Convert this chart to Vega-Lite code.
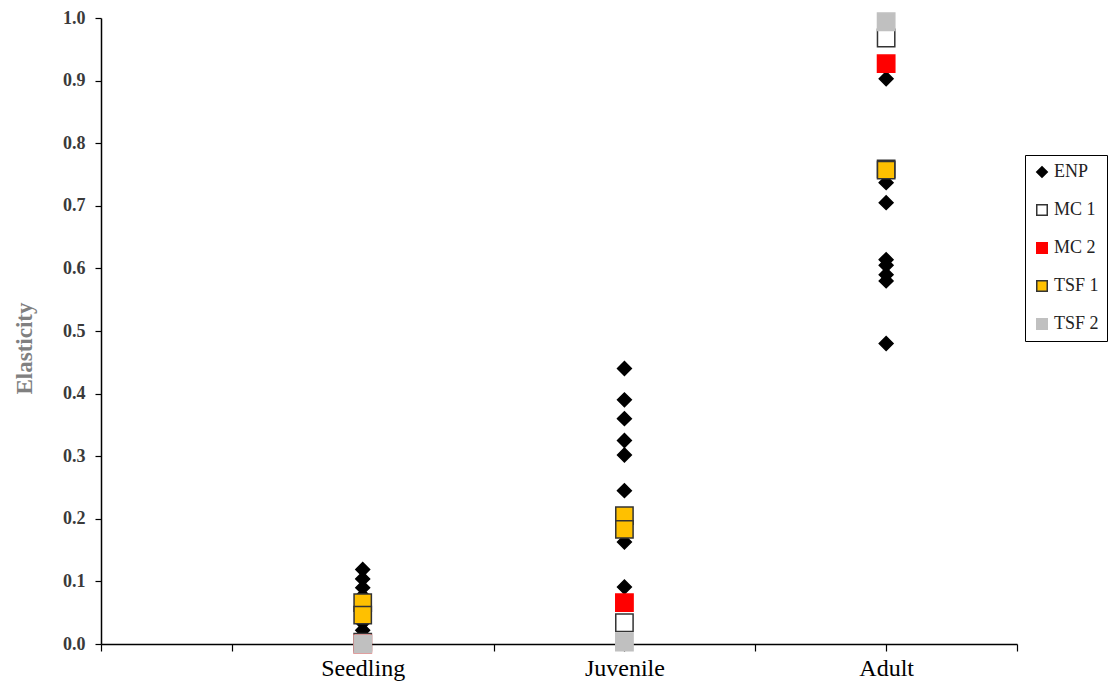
{
  "$schema": "https://vega.github.io/schema/vega-lite/v6.json",
  "autosize": {"type": "none"},
  "padding": {"left": 101, "top": 18, "right": 91, "bottom": 44},
  "width": 916,
  "height": 626,
  "background": "white",
  "config": {
    "view": {"stroke": null},
    "font": "Liberation Serif",
    "point": {"filled": true}
  },
  "data": {
    "values": [
      {"stage": "Seedling", "series": "ENP", "elasticity": 0.119},
      {"stage": "Seedling", "series": "ENP", "elasticity": 0.104},
      {"stage": "Seedling", "series": "ENP", "elasticity": 0.090},
      {"stage": "Seedling", "series": "ENP", "elasticity": 0.077},
      {"stage": "Seedling", "series": "ENP", "elasticity": 0.062},
      {"stage": "Seedling", "series": "ENP", "elasticity": 0.050},
      {"stage": "Seedling", "series": "ENP", "elasticity": 0.034},
      {"stage": "Seedling", "series": "ENP", "elasticity": 0.022},
      {"stage": "Juvenile", "series": "ENP", "elasticity": 0.440},
      {"stage": "Juvenile", "series": "ENP", "elasticity": 0.390},
      {"stage": "Juvenile", "series": "ENP", "elasticity": 0.360},
      {"stage": "Juvenile", "series": "ENP", "elasticity": 0.325},
      {"stage": "Juvenile", "series": "ENP", "elasticity": 0.302},
      {"stage": "Juvenile", "series": "ENP", "elasticity": 0.245},
      {"stage": "Juvenile", "series": "ENP", "elasticity": 0.163},
      {"stage": "Juvenile", "series": "ENP", "elasticity": 0.091},
      {"stage": "Adult", "series": "ENP", "elasticity": 0.903},
      {"stage": "Adult", "series": "ENP", "elasticity": 0.737},
      {"stage": "Adult", "series": "ENP", "elasticity": 0.705},
      {"stage": "Adult", "series": "ENP", "elasticity": 0.614},
      {"stage": "Adult", "series": "ENP", "elasticity": 0.605},
      {"stage": "Adult", "series": "ENP", "elasticity": 0.590},
      {"stage": "Adult", "series": "ENP", "elasticity": 0.580},
      {"stage": "Adult", "series": "ENP", "elasticity": 0.480},
      {"stage": "Seedling", "series": "MC 1", "elasticity": 0.003},
      {"stage": "Juvenile", "series": "MC 1", "elasticity": 0.034},
      {"stage": "Adult", "series": "MC 1", "elasticity": 0.968},
      {"stage": "Seedling", "series": "MC 2", "elasticity": 0.000},
      {"stage": "Juvenile", "series": "MC 2", "elasticity": 0.066},
      {"stage": "Adult", "series": "MC 2", "elasticity": 0.927},
      {"stage": "Seedling", "series": "TSF 1", "elasticity": 0.066},
      {"stage": "Seedling", "series": "TSF 1", "elasticity": 0.046},
      {"stage": "Juvenile", "series": "TSF 1", "elasticity": 0.205},
      {"stage": "Juvenile", "series": "TSF 1", "elasticity": 0.183},
      {"stage": "Adult", "series": "TSF 1", "elasticity": 0.759},
      {"stage": "Adult", "series": "TSF 1", "elasticity": 0.757},
      {"stage": "Seedling", "series": "TSF 2", "elasticity": 0.000},
      {"stage": "Juvenile", "series": "TSF 2", "elasticity": 0.003},
      {"stage": "Adult", "series": "TSF 2", "elasticity": 0.994}
    ]
  },
  "mark": {"type": "point", "filled": true, "strokeWidth": 1.5, "opacity": 1},
  "encoding": {
    "x": {
      "field": "stage",
      "type": "nominal",
      "scale": {
        "type": "point",
        "padding": 0,
        "domain": ["p0", "p1", "Seedling", "p3", "Juvenile", "p5", "Adult", "p7"]
      },
      "axis": {
        "title": null,
        "labelAngle": 0,
        "labelExpr": "indexof(['Seedling','Juvenile','Adult'], datum.value) >= 0 ? datum.value : ''",
        "labelFont": "Liberation Serif",
        "labelFontSize": 24,
        "labelColor": "black",
        "labelPadding": 5,
        "labelBaseline": "top",
        "domainColor": "black",
        "domainWidth": 1.5,
        "tickColor": "black",
        "tickWidth": 1.2,
        "tickSize": 7,
        "grid": false
      }
    },
    "y": {
      "field": "elasticity",
      "type": "quantitative",
      "scale": {"domain": [0, 1], "nice": false, "zero": true},
      "axis": {
        "title": "Elasticity",
        "values": [0, 0.1, 0.2, 0.3, 0.4, 0.5, 0.6, 0.7, 0.8, 0.9, 1.0],
        "format": ".1f",
        "labelFont": "Liberation Serif",
        "labelFontSize": 18,
        "labelFontWeight": "bold",
        "labelColor": "#3a3a3a",
        "labelPadding": 10,
        "domainColor": "black",
        "domainWidth": 1.5,
        "tickColor": "black",
        "tickWidth": 1.2,
        "tickSize": 6,
        "grid": false,
        "titleFont": "Liberation Serif",
        "titleFontSize": 23,
        "titleFontWeight": "bold",
        "titleColor": "#808080",
        "titleAngle": -90,
        "titleX": -77,
        "titleY": 330,
        "titleAlign": "center",
        "titleBaseline": "middle"
      }
    },
    "shape": {
      "field": "series",
      "type": "nominal",
      "scale": {
        "domain": ["ENP", "MC 1", "MC 2", "TSF 1", "TSF 2"],
        "range": ["diamond", "square", "square", "square", "square"]
      },
      "legend": {
        "title": null,
        "orient": "none",
        "legendX": 924,
        "legendY": 137,
        "strokeColor": "black",
        "fillColor": "white",
        "padding": 8,
        "rowPadding": 20,
        "labelFont": "Liberation Serif",
        "labelFontSize": 18,
        "labelColor": "#222222",
        "labelOffset": 3,
        "symbolSize": 110,
        "symbolStrokeWidth": 1.5
      }
    },
    "fill": {
      "field": "series",
      "type": "nominal",
      "scale": {
        "domain": ["ENP", "MC 1", "MC 2", "TSF 1", "TSF 2"],
        "range": ["#000000", "#ffffff", "#ff0000", "#ffc000", "#c0c0c0"]
      },
      "legend": null
    },
    "stroke": {
      "field": "series",
      "type": "nominal",
      "scale": {
        "domain": ["ENP", "MC 1", "MC 2", "TSF 1", "TSF 2"],
        "range": ["#000000", "#333333", "#ff0000", "#333333", "#c0c0c0"]
      },
      "legend": null
    },
    "size": {
      "condition": {"test": "datum.series === 'ENP'", "value": 190},
      "value": 300
    }
  }
}
